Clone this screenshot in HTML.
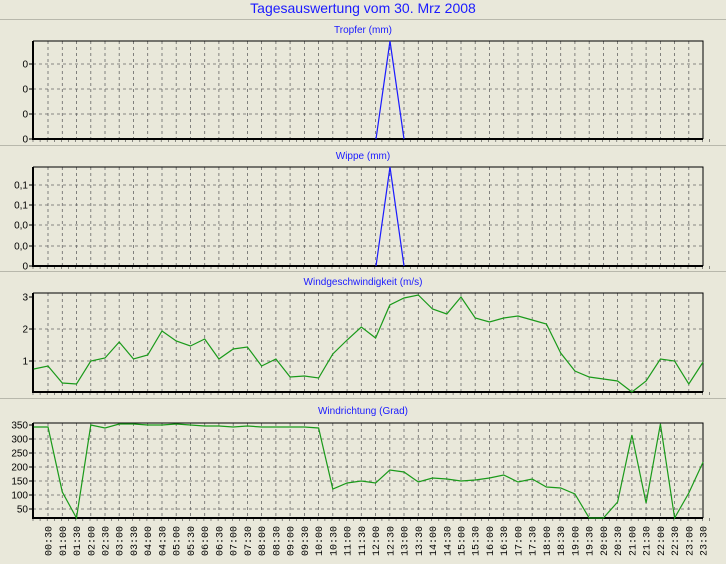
<!DOCTYPE html>
<html><head><meta charset="utf-8"><style>
body{margin:0;background:#E9E8DA;}
svg{display:block;font-family:"Liberation Sans",sans-serif;}
</style></head><body>
<svg id="s" width="726" height="564" xmlns="http://www.w3.org/2000/svg">
<rect width="726" height="564" fill="#E9E8DA"/>
<text x="363" y="13" text-anchor="middle" font-size="14" fill="#1a1aff">Tagesauswertung vom 30. Mrz 2008</text>
<line x1="0" y1="19.5" x2="726" y2="19.5" stroke="#b8b8ac"/>
<line x1="0" y1="145.5" x2="726" y2="145.5" stroke="#b8b8ac"/>
<line x1="0" y1="271.5" x2="726" y2="271.5" stroke="#b8b8ac"/>
<line x1="0" y1="398.5" x2="726" y2="398.5" stroke="#b8b8ac"/>
<g id="g"></g>
</svg>
<script>
var g=document.getElementById('g'),h='';
var L=33,R=703;function X(i){return 33.8+i*14.24;}
var panels=[
 {t:'Tropfer (mm)',ty:33,top:41,bot:139,grid:[64,89,114],labs:[[64,'0'],[89,'0'],[114,'0'],[139,'0']]},
 {t:'Wippe (mm)',ty:159,top:167,bot:266,grid:[185,205,225,246],labs:[[185,'0,1'],[205,'0,1'],[225,'0,0'],[246,'0,0'],[266,'0']]},
 {t:'Windgeschwindigkeit (m/s)',ty:285,top:293,bot:392,grid:[329,361],labs:[[297,'3'],[329,'2'],[361,'1']]},
 {t:'Windrichtung (Grad)',ty:414,top:423,bot:518,grid:[439,453,467,481,495,509],labs:[[425,'350'],[439,'300'],[453,'250'],[467,'200'],[481,'150'],[495,'100'],[509,'50']]}
];
panels.forEach(function(p){
 h+='<text x="363" y="'+p.ty+'" text-anchor="middle" font-size="10" fill="#1a1aff">'+p.t+'</text>';
 h+='<rect x="'+L+'" y="'+p.top+'" width="'+(R-L)+'" height="'+(p.bot-p.top)+'" fill="#E9E8DA"/>';
 for(var i=1;i<47;i++){var x=X(i).toFixed(1);h+='<line x1="'+x+'" y1="'+p.top+'" x2="'+x+'" y2="'+p.bot+'" stroke="#666" stroke-dasharray="3,3" stroke-width="0.8"/>';}
 p.grid.forEach(function(y){h+='<line x1="'+L+'" y1="'+y+'" x2="'+R+'" y2="'+y+'" stroke="#666" stroke-dasharray="3,3" stroke-width="0.8"/>';});
 for(var i=0;i<96;i++){var x=(L+i*7.12).toFixed(1);h+='<line x1="'+x+'" y1="'+p.bot+'" x2="'+x+'" y2="'+(p.bot+3)+'" stroke="#444" stroke-width="0.6"/>';}
 p.labs.forEach(function(l){h+='<text x="28" y="'+(l[0]+3.5)+'" text-anchor="end" font-size="10" fill="#000">'+l[1]+'</text><line x1="29" y1="'+l[0]+'" x2="'+L+'" y2="'+l[0]+'" stroke="#000"/>';});
 h+='<polyline points="'+L+','+p.top+' '+L+','+p.bot+' '+R+','+p.bot+'" fill="none" stroke="#000" stroke-width="2"/>';
 h+='<polyline points="'+L+','+p.top+' '+R+','+p.top+' '+R+','+p.bot+'" fill="none" stroke="#000" stroke-width="1"/>';
});
h+='<polyline points="376,139 390,41 404,139" fill="none" stroke="#1a1aff" stroke-width="1.2"/>';
h+='<polyline points="376,266 390,167 404,266" fill="none" stroke="#1a1aff" stroke-width="1.2"/>';
var ws=[369,366,383,384,361,358,342,359,355,331,341,346,339,359,349,347,366,359,377,376,378,354,340,327,338,305,298,295,309,314,297,318,322,318,316,320,324,353,371,377,379,381,392,381,359,361,384,362];
var wd=[427,427,492,518,425,428,424,424,425,425,424,425,426,426,427,426,427,427,427,427,428,489,483,481,483,470,472,482,478,479,481,480,478,475,482,479,487,488,494,518,518,502,435,503,424,518,493,462];
function pl(a){return a.map(function(y,i){return X(i).toFixed(1)+','+y;}).join(' ');}
h+='<polyline points="'+pl(ws)+'" fill="none" stroke="#1a9a1a" stroke-width="1.2"/>';
h+='<polyline points="'+pl(wd)+'" fill="none" stroke="#1a9a1a" stroke-width="1.2"/>';
for(var i=1;i<48;i++){var hh=Math.floor(i/2),mm=i%2?'30':'00';var s=(hh<10?'0':'')+hh+':'+mm;var x=X(i)+3.5;
 h+='<text transform="translate('+x.toFixed(1)+',556) rotate(-90)" font-size="10" fill="#000" font-family="Liberation Mono,monospace">'+s+'</text>';}
g.innerHTML=h;
</script>
</body></html>
